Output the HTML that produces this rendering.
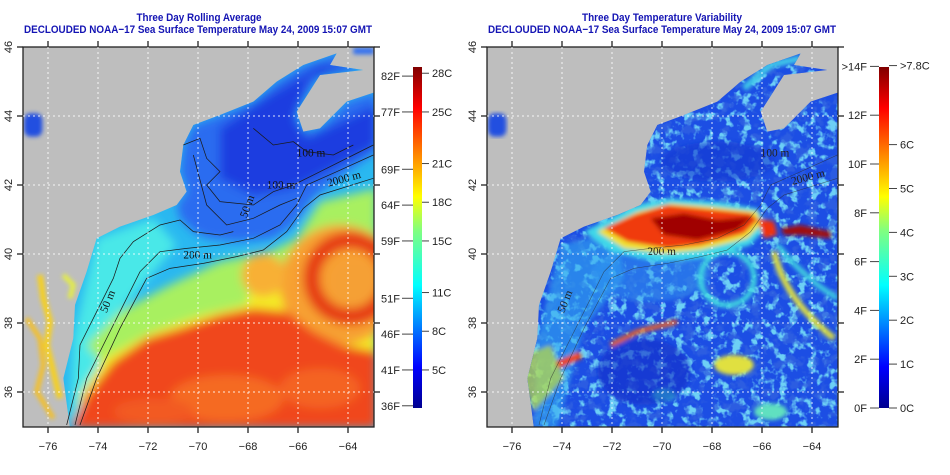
<!DOCTYPE html>
<html><head><meta charset="utf-8">
<style>
html,body{margin:0;padding:0;background:#fff;}
svg{display:block;font-family:"Liberation Sans",Arial,sans-serif;}
.t{font-size:11px;font-weight:bold;fill:#1414b4;}
.lab{font-size:11px;fill:#222;}
</style></head>
<body>
<svg id="chart" width="950" height="475" viewBox="0 0 950 475">
<defs>
  <clipPath id="plotclip"><rect x="9" y="6" width="1053" height="1140"/></clipPath>
  <clipPath id="oceanclip"><path d="M150,1150 L130,1000 L160,880 L165,780 L200,680 L230,580 L300,545 L400,510 L470,480 L500,440 L480,380 L490,300 L520,240 L600,210 L700,170 L770,110 L850,60 L950,25 L930,60 L1030,75 L900,90 L830,200 L850,260 L900,250 L980,170 L1070,140 L1070,1150 Z"/></clipPath>
  <filter id="blur" x="-10%" y="-10%" width="120%" height="120%"><feGaussianBlur stdDeviation="14"/></filter>
  <filter id="blur2" x="-10%" y="-10%" width="120%" height="120%"><feGaussianBlur stdDeviation="6"/></filter>
  <filter id="speck" x="0" y="0" width="100%" height="100%"><feTurbulence type="fractalNoise" baseFrequency="0.035" numOctaves="3" seed="3"/><feColorMatrix type="matrix" values="0 0 0 0 0.2  0 0 0 0 0.8  0 0 0 0 0.95  6 0 0 0 -3.1"/></filter>
  <filter id="speck2" x="0" y="0" width="100%" height="100%"><feTurbulence type="fractalNoise" baseFrequency="0.03" numOctaves="3" seed="11"/><feColorMatrix type="matrix" values="0 0 0 0 0.03  0 0 0 0 0.12  0 0 0 0 0.75  6 0 0 0 -3.1"/></filter>
  <linearGradient id="jet" x1="0" y1="1" x2="0" y2="0">
    <stop offset="0" stop-color="#00008f"/>
    <stop offset="0.12" stop-color="#0000ff"/>
    <stop offset="0.36" stop-color="#00ffff"/>
    <stop offset="0.52" stop-color="#80ff80"/>
    <stop offset="0.62" stop-color="#ffff00"/>
    <stop offset="0.88" stop-color="#ff0000"/>
    <stop offset="1" stop-color="#800000"/>
  </linearGradient>
</defs>

<text class="t" x="199" y="21" text-anchor="middle" textLength="125" lengthAdjust="spacingAndGlyphs">Three Day Rolling Average</text>
<text class="t" x="198" y="33" text-anchor="middle" textLength="348" lengthAdjust="spacingAndGlyphs">DECLOUDED NOAA−17 Sea Surface Temperature May 24, 2009 15:07 GMT</text>
<text class="t" x="662" y="21" text-anchor="middle" textLength="160" lengthAdjust="spacingAndGlyphs">Three Day Temperature Variability</text>
<text class="t" x="662" y="33" text-anchor="middle" textLength="348" lengthAdjust="spacingAndGlyphs">DECLOUDED NOAA−17 Sea Surface Temperature May 24, 2009 15:07 GMT</text>

<!-- LEFT MAP -->
<g transform="translate(20,45) scale(0.33333)">
 <g clip-path="url(#plotclip)">
  <rect x="0" y="0" width="1080" height="1160" fill="#bebebe"/>
  <g clip-path="url(#oceanclip)">
   <rect x="0" y="0" width="1080" height="1160" fill="#2ab8f0"/>
   <g filter="url(#blur)">
    <path d="M150,1150 L160,880 L230,580 L400,520 L470,600 L300,800 L220,1000 Z" fill="#48e8e8"/>
    <path d="M470,480 L500,440 L480,380 L490,300 L520,240 L600,210 L700,170 L770,110 L850,60 L950,25 L1030,75 L900,90 L830,200 L850,260 L900,250 L980,170 L1070,140 L1070,320 L950,400 L880,460 L820,540 L760,580 L650,590 L560,580 L520,560 L480,520 Z" fill="#2a6cf0"/>
    <path d="M600,250 L750,150 L900,60 L1000,70 L870,100 L820,220 L860,280 L1070,180 L1070,300 L900,390 L820,430 L700,450 L600,400 Z" fill="#1a3ce0"/>
    <path d="M200,900 L300,800 L450,720 L600,650 L750,620 L830,580 L900,470 L1070,430 L1070,600 L900,620 L800,760 L600,800 L400,860 L250,960 Z" fill="#a8f060"/>
    <path d="M180,1050 L250,940 L400,860 L550,810 L680,780 L700,700 L850,640 L1070,560 L1070,950 L180,1150 Z" fill="#f4ec28"/>
    <circle cx="960" cy="720" r="180" fill="#f7a030"/>
    <circle cx="990" cy="700" r="115" fill="none" stroke="#e63a14" stroke-width="50"/>
    <circle cx="1000" cy="710" r="70" fill="#f5a034"/>
    <circle cx="730" cy="690" r="65" fill="#f8b034"/>
    <path d="M150,1150 L200,1050 L280,950 L380,880 L480,850 L600,810 L700,790 L800,800 L880,860 L960,900 L1070,920 L1070,1150 Z" fill="#f0461a"/>
    <ellipse cx="620" cy="1060" rx="170" ry="70" fill="#f56a24"/>
    <ellipse cx="900" cy="1030" rx="120" ry="60" fill="#f46424"/>
    <ellipse cx="400" cy="1100" rx="120" ry="40" fill="#f25a20"/>
   </g>
  </g>
  <g filter="url(#blur2)">
   <path d="M60,690 L70,760 L90,830 L80,900 L100,980 L120,1060" stroke="#f6d020" stroke-width="18" fill="none"/>
   <path d="M20,820 L60,880 L70,960 L50,1040 L100,1120" stroke="#f6c020" stroke-width="14" fill="none"/>
   <path d="M130,690 L160,720 L150,760" stroke="#e6f040" stroke-width="14" fill="none"/>
   <rect x="12" y="205" width="55" height="70" rx="20" fill="#2050e0"/>
   <rect x="1000" y="8" width="62" height="20" fill="#3070f0"/>
  </g>
  <g fill="none" stroke="#1a1a1a" stroke-width="2.2">
   <path d="M140,1140 L175,1000 L180,900 L230,800 L280,700 L300,640 L340,590 L420,540 L480,525 L520,560 L600,570 L640,560"/>
   <path d="M165,1140 L200,1000 L250,900 L320,760 L360,680 L420,620 L500,610 L600,600 L700,580 L780,540 L830,480 L860,420 L950,380 L1060,330"/>
   <path d="M180,1140 L230,1000 L300,850 L380,700 L450,670 L550,655 L650,635 L730,615 L800,560 L850,490 L900,450 L1060,400"/>
   <path d="M490,300 L540,280 L560,340 L600,380 L560,420 L600,470 L700,480 L760,440 L820,420 L900,380 L1000,330 L1060,300"/>
   <path d="M520,330 L560,480 L620,540 L700,520 L780,480 L830,460"/>
   <path d="M700,250 L760,300 L820,290 L860,320 L940,330 L1000,300"/>
  </g>
  <g font-family="Liberation Serif,serif" font-size="34" fill="#111">
   <text x="490" y="640">200 m</text>
   <text x="925" y="425" transform="rotate(-15 925 425)">2000 m</text>
   <text x="830" y="335">100 m</text>
   <text x="740" y="430">100 m</text>
   <text x="260" y="805" transform="rotate(-68 260 805)">50 m</text>
   <text x="680" y="520" transform="rotate(-70 680 520)">50 m</text>
  </g>
 </g>
</g>

<!-- RIGHT MAP -->
<g transform="translate(484,45) scale(0.33333)">
 <g clip-path="url(#plotclip)">
  <rect x="0" y="0" width="1080" height="1160" fill="#bebebe"/>
  <g clip-path="url(#oceanclip)">
   <rect x="0" y="0" width="1080" height="1160" fill="#1c4ee4"/>
   <rect x="0" y="0" width="1080" height="1160" filter="url(#speck)" opacity="0.85"/>
   <rect x="0" y="0" width="1080" height="1160" filter="url(#speck2)" opacity="0.8"/>
   <g filter="url(#blur2)">
    <path d="M150,1150 L160,880 L230,600 L400,560 L420,700 L300,850 L220,1150 Z" fill="#30a8f0" opacity="0.6"/>
    <path d="M90,940 L200,900 L240,1000 L150,1100 Z" fill="#c0e040" opacity="0.7"/>
    <ellipse cx="500" cy="690" rx="180" ry="80" fill="#3098f0" opacity="0.5"/>
    <path d="M300,560 L450,480 L560,460 L700,470 L820,490 L850,540 L800,600 L660,640 L520,650 L380,620 Z" fill="#40d8e8"/>
    <path d="M340,560 L460,500 L560,475 L680,485 L820,500 L830,540 L790,580 L650,615 L540,625 L420,610 Z" fill="#f0e030"/>
    <path d="M360,550 L450,510 L550,480 L650,490 L800,505 L820,525 L780,565 L650,600 L550,610 L430,590 Z" fill="#f03a10"/>
    <path d="M500,520 L600,505 L700,525 L805,515 L760,555 L640,585 L540,570 Z" fill="#a00000"/>
    <path d="M890,550 L950,540 L1040,560 L1040,580 L950,570 L900,570 Z" fill="#a00808"/>
    <path d="M820,520 L870,530 L880,570 L840,580 Z" fill="#f03010"/>
    <circle cx="730" cy="700" r="80" fill="none" stroke="#40d8e0" stroke-width="16"/>
    <path d="M870,620 Q900,760 1050,880" stroke="#e0e040" stroke-width="18" fill="none"/>
    <path d="M880,600 Q960,700 1060,760" stroke="#40d0e0" stroke-width="16" fill="none"/>
    <path d="M380,900 L460,860 L580,830" stroke="#f06020" stroke-width="14" fill="none"/>
    <path d="M220,960 L290,930" stroke="#f04010" stroke-width="22" fill="none"/>
    <ellipse cx="750" cy="960" rx="60" ry="30" fill="#e0e040"/>
    <ellipse cx="540" cy="1050" rx="35" ry="18" fill="#40e0d0"/>
    <ellipse cx="860" cy="1100" rx="50" ry="25" fill="#60e0c0"/>
    <path d="M100,990 L120,1060" stroke="#e02010" stroke-width="14" fill="none"/>
    <path d="M780,130 L860,60 L950,40" stroke="#40c8e8" stroke-width="20" fill="none"/>
    <ellipse cx="480" cy="980" rx="140" ry="100" fill="#0c2cc8" opacity="0.6"/>
    <ellipse cx="700" cy="350" rx="170" ry="60" fill="#1438d0" opacity="0.6"/>
   </g>
  </g>
  <g filter="url(#blur2)">
   <rect x="12" y="205" width="55" height="70" rx="20" fill="#2050e0"/>
  </g>
  <g fill="none" stroke="#2a2a2a" stroke-width="1.6" opacity="0.7">
   <path d="M165,1140 L200,1000 L250,900 L320,760 L360,680 L420,620 L500,610 L600,600 L700,580 L780,540 L830,480 L860,420 L950,380 L1060,330"/>
   <path d="M180,1140 L230,1000 L300,850 L380,700 L450,670 L550,655 L650,635 L730,615 L800,560 L850,490 L900,450 L1060,400"/>
  </g>
  <g font-family="Liberation Serif,serif" font-size="34" fill="#222">
   <text x="490" y="630">200 m</text>
   <text x="925" y="420" transform="rotate(-15 925 420)">2000 m</text>
   <text x="830" y="335">100 m</text>
   <text x="240" y="805" transform="rotate(-68 240 805)">50 m</text>
  </g>
 </g>
</g>

<rect x="413" y="67" width="9" height="341" fill="url(#jet)"/>
<rect x="879" y="67" width="10" height="341" fill="url(#jet)"/>
<g id="axes"></g>
</svg>
<script>
const lonTicks = [-76, -74, -72, -70, -68, -66, -64];
const latTicks = [36, 38, 40, 42, 44, 46];
const sstC = [28, 25, 21, 18, 15, 11, 8, 5];
const sstF = [82, 77, 69, 64, 59, 51, 46, 41, 36];
const varC = [0, 1, 2, 3, 4, 5, 6, 7.8];
const varF = [0, 2, 4, 6, 8, 10, 12, 14];

const NS = 'http://www.w3.org/2000/svg';
const axes = document.getElementById('axes');
function mk(tag, attrs, parent) {
  const e = document.createElementNS(NS, tag);
  for (const k in attrs) e.setAttribute(k, attrs[k]);
  (parent || axes).appendChild(e);
  return e;
}
const top0 = 47, bot = 427;
function latY(lat) { return top0 + (46 - lat) * 34.5; }
function lonX(ox, lon) { return ox + (lon + 77) * 25; }
function sstY(c) { return 408 - (c - 2.05) * 12.9; }
function varY(c) { return 408 - c * 43.9; }
function varFY(f) { return 408 - f * 24.4; }
function minus(v) { return String(v).replace('-', '\u2212'); }

[23, 487].forEach(function (ox, pi) {
  const right = ox + 351;
  const frame = mk('rect', { x: ox, y: top0, width: 351, height: bot - top0, fill: 'none', stroke: '#222', 'stroke-width': 1.3 });
  
  
  lonTicks.forEach(function (lon) {
    const x = lonX(ox, lon);
    const g = mk('line', { x1: x, y1: top0, x2: x, y2: bot, stroke: '#fff', 'stroke-dasharray': '2,3', 'stroke-width': 1, opacity: 0.85 });
    
    
    const t1 = mk('line', { x1: x, y1: bot, x2: x, y2: bot + 6, stroke: '#222', 'stroke-width': 1.3 });
    
    
    const t2 = mk('line', { x1: x, y1: top0, x2: x, y2: top0 - 6, stroke: '#222', 'stroke-width': 1.3 });
    
    
    const lb = mk('text', { x: x, y: 450, 'text-anchor': 'middle', class: 'lab' });
    lb.textContent = minus(lon);
    
    
  });
  latTicks.forEach(function (lat) {
    const y = latY(lat);
    if (lat < 46) {
      const g = mk('line', { x1: ox, y1: y, x2: right, y2: y, stroke: '#fff', 'stroke-dasharray': '2,3', 'stroke-width': 1, opacity: 0.85 });
      
      
    }
    const t1 = mk('line', { x1: ox - 6, y1: y, x2: ox, y2: y, stroke: '#222', 'stroke-width': 1.3 });
    
    
    const t2 = mk('line', { x1: right, y1: y, x2: right + 6, y2: y, stroke: '#222', 'stroke-width': 1.3 });
    
    
    const lx = ox - 11;
    const lb = mk('text', { x: lx, y: y, 'text-anchor': 'middle', class: 'lab', transform: 'rotate(-90 ' + lx + ' ' + y + ')' });
    lb.textContent = lat;
    
    
  });
});

sstC.forEach(function (c) {
  const y = sstY(c);
  const t = mk('line', { x1: 422, y1: y, x2: 429, y2: y, stroke: '#444' });
  
  
  const l = mk('text', { x: 432, y: y + 4, class: 'lab' });
  l.textContent = c + 'C';
  
  
});
sstF.forEach(function (f) {
  const y = sstY((f - 32) * 5 / 9);
  const t = mk('line', { x1: 402, y1: y, x2: 413, y2: y, stroke: '#444' });
  
  
  const l = mk('text', { x: 400, y: y + 4, 'text-anchor': 'end', class: 'lab' });
  l.textContent = f + 'F';
  
  
});
varC.forEach(function (c, i) {
  const y = varY(c);
  const t = mk('line', { x1: 889, y1: y, x2: 897, y2: y, stroke: '#444' });
  
  
  const l = mk('text', { x: 900, y: y + 4, class: 'lab' });
  l.textContent = (i === varC.length - 1 ? '>' : '') + c + 'C';
  
  
});
varF.forEach(function (f, i) {
  const y = varFY(f);
  const t = mk('line', { x1: 870, y1: y, x2: 879, y2: y, stroke: '#444' });
  
  
  const l = mk('text', { x: 867, y: y + 4, 'text-anchor': 'end', class: 'lab' });
  l.textContent = (i === varF.length - 1 ? '>' : '') + f + 'F';
  
  
});
</script>
</body></html>
